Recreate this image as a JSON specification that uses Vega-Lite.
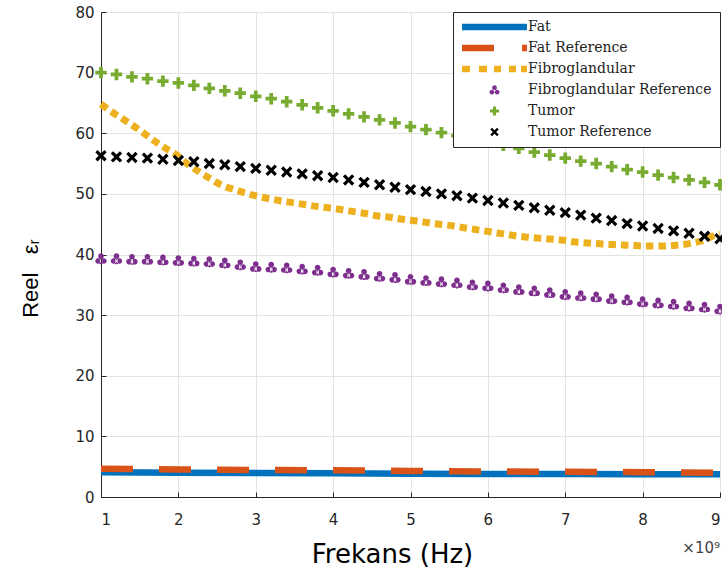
{
"$schema": "https://vega.github.io/schema/vega-lite/v6.json",
"width": 619, "height": 485,
"autosize": {"type": "none"},
"padding": {"left": 101, "top": 12, "right": 2, "bottom": 81},
"background": "white",
"title": {"text": "×10⁹", "orient": "bottom", "anchor": "end", "frame": "group", "offset": -26, "font": "DejaVu Sans", "fontSize": 15, "fontWeight": "normal", "color": "#444444"},
"config": {
  "view": {"stroke": "#262626", "strokeWidth": 1},
  "axis": {"domainColor": "#262626", "tickColor": "#262626", "labelColor": "#262626", "labelFont": "DejaVu Sans", "labelFontSize": 15, "gridColor": "#e3e3e3", "grid": true, "tickSize": -5, "titleColor": "#000000", "titleFontWeight": "normal"}
},
"datasets": {
"lines": [
{"series":"Fat","f":1,"v":4.1},{"series":"Fat","f":2,"v":4.0},{"series":"Fat","f":3,"v":3.95},{"series":"Fat","f":4,"v":3.9},{"series":"Fat","f":5,"v":3.85},{"series":"Fat","f":6,"v":3.8},{"series":"Fat","f":7,"v":3.8},{"series":"Fat","f":8,"v":3.75},{"series":"Fat","f":9,"v":3.75},
{"series":"Fat Reference","f":1,"v":4.65},{"series":"Fat Reference","f":2,"v":4.55},{"series":"Fat Reference","f":3,"v":4.45},{"series":"Fat Reference","f":4,"v":4.4},{"series":"Fat Reference","f":5,"v":4.3},{"series":"Fat Reference","f":6,"v":4.2},{"series":"Fat Reference","f":7,"v":4.15},{"series":"Fat Reference","f":8,"v":4.1},{"series":"Fat Reference","f":9,"v":4.0},
{"series":"Fibroglandular","f":1.0,"v":64.8},{"series":"Fibroglandular","f":1.2,"v":63.0},{"series":"Fibroglandular","f":1.35,"v":61.8},{"series":"Fibroglandular","f":1.5,"v":60.5},{"series":"Fibroglandular","f":1.65,"v":59.1},{"series":"Fibroglandular","f":1.8,"v":57.8},{"series":"Fibroglandular","f":2.0,"v":56.2},{"series":"Fibroglandular","f":2.1,"v":55.1},{"series":"Fibroglandular","f":2.25,"v":53.8},{"series":"Fibroglandular","f":2.4,"v":52.6},{"series":"Fibroglandular","f":2.55,"v":51.5},{"series":"Fibroglandular","f":2.75,"v":50.6},{"series":"Fibroglandular","f":2.9,"v":50.0},{"series":"Fibroglandular","f":3.1,"v":49.4},{"series":"Fibroglandular","f":3.3,"v":48.9},{"series":"Fibroglandular","f":3.5,"v":48.5},{"series":"Fibroglandular","f":3.65,"v":48.2},{"series":"Fibroglandular","f":3.8,"v":47.9},{"series":"Fibroglandular","f":4.0,"v":47.6},{"series":"Fibroglandular","f":4.2,"v":47.2},{"series":"Fibroglandular","f":4.4,"v":46.8},{"series":"Fibroglandular","f":4.55,"v":46.4},{"series":"Fibroglandular","f":4.75,"v":46.1},{"series":"Fibroglandular","f":4.9,"v":45.8},{"series":"Fibroglandular","f":5.1,"v":45.5},{"series":"Fibroglandular","f":5.3,"v":45.1},{"series":"Fibroglandular","f":5.5,"v":44.8},{"series":"Fibroglandular","f":5.65,"v":44.5},{"series":"Fibroglandular","f":5.85,"v":44.1},{"series":"Fibroglandular","f":6.0,"v":43.8},{"series":"Fibroglandular","f":6.2,"v":43.4},{"series":"Fibroglandular","f":6.35,"v":43.1},{"series":"Fibroglandular","f":6.55,"v":42.8},{"series":"Fibroglandular","f":6.75,"v":42.6},{"series":"Fibroglandular","f":6.95,"v":42.4},{"series":"Fibroglandular","f":7.1,"v":42.1},{"series":"Fibroglandular","f":7.3,"v":41.9},{"series":"Fibroglandular","f":7.5,"v":41.7},{"series":"Fibroglandular","f":7.7,"v":41.6},{"series":"Fibroglandular","f":7.85,"v":41.5},{"series":"Fibroglandular","f":8.05,"v":41.4},{"series":"Fibroglandular","f":8.25,"v":41.4},{"series":"Fibroglandular","f":8.4,"v":41.5},{"series":"Fibroglandular","f":8.6,"v":41.8},{"series":"Fibroglandular","f":8.8,"v":42.4},{"series":"Fibroglandular","f":8.9,"v":43.0},{"series":"Fibroglandular","f":9.0,"v":43.4}
],
"markers": [
{"series":"Fibroglandular Reference","f":1.0,"v":39.3},{"series":"Fibroglandular Reference","f":1.2,"v":39.3},{"series":"Fibroglandular Reference","f":1.4,"v":39.2},{"series":"Fibroglandular Reference","f":1.6,"v":39.2},{"series":"Fibroglandular Reference","f":1.8,"v":39.1},{"series":"Fibroglandular Reference","f":2.0,"v":39.0},{"series":"Fibroglandular Reference","f":2.2,"v":38.9},{"series":"Fibroglandular Reference","f":2.4,"v":38.8},{"series":"Fibroglandular Reference","f":2.6,"v":38.6},{"series":"Fibroglandular Reference","f":2.8,"v":38.3},{"series":"Fibroglandular Reference","f":3.0,"v":38.0},{"series":"Fibroglandular Reference","f":3.2,"v":37.9},{"series":"Fibroglandular Reference","f":3.4,"v":37.8},{"series":"Fibroglandular Reference","f":3.6,"v":37.6},{"series":"Fibroglandular Reference","f":3.8,"v":37.4},{"series":"Fibroglandular Reference","f":4.0,"v":37.1},{"series":"Fibroglandular Reference","f":4.2,"v":36.9},{"series":"Fibroglandular Reference","f":4.4,"v":36.7},{"series":"Fibroglandular Reference","f":4.6,"v":36.4},{"series":"Fibroglandular Reference","f":4.8,"v":36.2},{"series":"Fibroglandular Reference","f":5.0,"v":35.9},{"series":"Fibroglandular Reference","f":5.2,"v":35.7},{"series":"Fibroglandular Reference","f":5.4,"v":35.5},{"series":"Fibroglandular Reference","f":5.6,"v":35.3},{"series":"Fibroglandular Reference","f":5.8,"v":35.0},{"series":"Fibroglandular Reference","f":6.0,"v":34.8},{"series":"Fibroglandular Reference","f":6.2,"v":34.5},{"series":"Fibroglandular Reference","f":6.4,"v":34.2},{"series":"Fibroglandular Reference","f":6.6,"v":34.0},{"series":"Fibroglandular Reference","f":6.8,"v":33.7},{"series":"Fibroglandular Reference","f":7.0,"v":33.4},{"series":"Fibroglandular Reference","f":7.2,"v":33.2},{"series":"Fibroglandular Reference","f":7.4,"v":33.0},{"series":"Fibroglandular Reference","f":7.6,"v":32.7},{"series":"Fibroglandular Reference","f":7.8,"v":32.5},{"series":"Fibroglandular Reference","f":8.0,"v":32.2},{"series":"Fibroglandular Reference","f":8.2,"v":32.0},{"series":"Fibroglandular Reference","f":8.4,"v":31.8},{"series":"Fibroglandular Reference","f":8.6,"v":31.5},{"series":"Fibroglandular Reference","f":8.8,"v":31.3},{"series":"Fibroglandular Reference","f":9.0,"v":31.0},
{"series":"Tumor","f":1.0,"v":70.0},{"series":"Tumor","f":1.2,"v":69.7},{"series":"Tumor","f":1.4,"v":69.3},{"series":"Tumor","f":1.6,"v":69.0},{"series":"Tumor","f":1.8,"v":68.6},{"series":"Tumor","f":2.0,"v":68.3},{"series":"Tumor","f":2.2,"v":67.9},{"series":"Tumor","f":2.4,"v":67.4},{"series":"Tumor","f":2.6,"v":67.0},{"series":"Tumor","f":2.8,"v":66.6},{"series":"Tumor","f":3.0,"v":66.1},{"series":"Tumor","f":3.2,"v":65.7},{"series":"Tumor","f":3.4,"v":65.2},{"series":"Tumor","f":3.6,"v":64.7},{"series":"Tumor","f":3.8,"v":64.2},{"series":"Tumor","f":4.0,"v":63.7},{"series":"Tumor","f":4.2,"v":63.2},{"series":"Tumor","f":4.4,"v":62.7},{"series":"Tumor","f":4.6,"v":62.2},{"series":"Tumor","f":4.8,"v":61.7},{"series":"Tumor","f":5.0,"v":61.1},{"series":"Tumor","f":5.2,"v":60.6},{"series":"Tumor","f":5.4,"v":60.1},{"series":"Tumor","f":5.6,"v":59.6},{"series":"Tumor","f":5.8,"v":59.0},{"series":"Tumor","f":6.0,"v":58.5},{"series":"Tumor","f":6.2,"v":58.0},{"series":"Tumor","f":6.4,"v":57.5},{"series":"Tumor","f":6.6,"v":56.9},{"series":"Tumor","f":6.8,"v":56.4},{"series":"Tumor","f":7.0,"v":55.9},{"series":"Tumor","f":7.2,"v":55.4},{"series":"Tumor","f":7.4,"v":55.0},{"series":"Tumor","f":7.6,"v":54.5},{"series":"Tumor","f":7.8,"v":54.0},{"series":"Tumor","f":8.0,"v":53.6},{"series":"Tumor","f":8.2,"v":53.1},{"series":"Tumor","f":8.4,"v":52.7},{"series":"Tumor","f":8.6,"v":52.3},{"series":"Tumor","f":8.8,"v":51.9},{"series":"Tumor","f":9.0,"v":51.5},
{"series":"Tumor Reference","f":1.0,"v":56.3},{"series":"Tumor Reference","f":1.2,"v":56.1},{"series":"Tumor Reference","f":1.4,"v":56.0},{"series":"Tumor Reference","f":1.6,"v":55.9},{"series":"Tumor Reference","f":1.8,"v":55.7},{"series":"Tumor Reference","f":2.0,"v":55.5},{"series":"Tumor Reference","f":2.2,"v":55.3},{"series":"Tumor Reference","f":2.4,"v":55.0},{"series":"Tumor Reference","f":2.6,"v":54.8},{"series":"Tumor Reference","f":2.8,"v":54.5},{"series":"Tumor Reference","f":3.0,"v":54.2},{"series":"Tumor Reference","f":3.2,"v":53.9},{"series":"Tumor Reference","f":3.4,"v":53.6},{"series":"Tumor Reference","f":3.6,"v":53.3},{"series":"Tumor Reference","f":3.8,"v":53.0},{"series":"Tumor Reference","f":4.0,"v":52.7},{"series":"Tumor Reference","f":4.2,"v":52.3},{"series":"Tumor Reference","f":4.4,"v":51.9},{"series":"Tumor Reference","f":4.6,"v":51.5},{"series":"Tumor Reference","f":4.8,"v":51.1},{"series":"Tumor Reference","f":5.0,"v":50.7},{"series":"Tumor Reference","f":5.2,"v":50.4},{"series":"Tumor Reference","f":5.4,"v":50.0},{"series":"Tumor Reference","f":5.6,"v":49.7},{"series":"Tumor Reference","f":5.8,"v":49.3},{"series":"Tumor Reference","f":6.0,"v":48.9},{"series":"Tumor Reference","f":6.2,"v":48.5},{"series":"Tumor Reference","f":6.4,"v":48.1},{"series":"Tumor Reference","f":6.6,"v":47.7},{"series":"Tumor Reference","f":6.8,"v":47.3},{"series":"Tumor Reference","f":7.0,"v":46.9},{"series":"Tumor Reference","f":7.2,"v":46.5},{"series":"Tumor Reference","f":7.4,"v":46.0},{"series":"Tumor Reference","f":7.6,"v":45.6},{"series":"Tumor Reference","f":7.8,"v":45.1},{"series":"Tumor Reference","f":8.0,"v":44.7},{"series":"Tumor Reference","f":8.2,"v":44.3},{"series":"Tumor Reference","f":8.4,"v":43.9},{"series":"Tumor Reference","f":8.6,"v":43.5},{"series":"Tumor Reference","f":8.8,"v":43.0},{"series":"Tumor Reference","f":9.0,"v":42.6}
]
},
"encoding": {
  "x": {"field": "f", "type": "quantitative", "scale": {"domain": [1, 9], "nice": false, "zero": false},
        "axis": {"values": [1,2,3,4,5,6,7,8,9], "title": "Frekans (Hz)", "titleFont": "DejaVu Sans", "titleFontSize": 26, "labelPadding": 20, "titleX": 291, "titleY": 65, "titleBaseline": "alphabetic", "titleAnchor": null}},
  "y": {"field": "v", "type": "quantitative", "scale": {"domain": [0, 80], "nice": false},
        "axis": {"values": [0,10,20,30,40,50,60,70,80], "title": "Reel\u00a0\u00a0\u00a0εᵣ", "titleFont": "Liberation Sans", "titleFontSize": 22, "labelPadding": 12, "titleX": -64, "titleY": 266, "titleAngle": 270, "titleBaseline": "alphabetic", "titleAlign": "center", "titleAnchor": null}},
  "color": {"field": "series", "type": "nominal",
    "scale": {"domain": ["Fat", "Fat Reference", "Fibroglandular", "Fibroglandular Reference", "Tumor", "Tumor Reference"], "range": ["#0072BD", "#D95319", "#EDB120", "#7E2F8E", "#77AC30", "#000000"]},
    "legend": {"title": null, "orient": "top-right", "offset": 0, "fillColor": "white", "strokeColor": "#262626", "padding": 8,
      "labelFont": "DejaVu Serif", "labelFontSize": 14, "labelColor": "#222222", "labelLimit": 0, "symbolSize": 144, "labelOffset": 53, "rowPadding": 7,
      "encode": {"symbols": {"update": {
        "shape": {"signal": "datum.value === 'Fat' ? 'M-1,-0.55H9.83V0.55H-1Z' : datum.value === 'Fat Reference' ? 'M-1,-0.55H4.33V0.55H-1Z M9,-0.55H9.83V0.55H9Z' : datum.value === 'Fibroglandular' ? 'M-1,-0.55H0.33V0.55H-1Z M1.83,-0.55H3.17V0.55H1.83Z M4.33,-0.55H5.5V0.55H4.33Z M6.83,-0.55H8V0.55H6.83Z M8.83,-0.55H9.83V0.55H8.83Z' : datum.value === 'Fibroglandular Reference' ? 'M4.02,-0.38A0.4,0.4 0 1 0 4.82,-0.38A0.4,0.4 0 1 0 4.02,-0.38Z M3.58,0.34A0.4,0.4 0 1 0 4.38,0.34A0.4,0.4 0 1 0 3.58,0.34Z M4.46,0.34A0.4,0.4 0 1 0 5.26,0.34A0.4,0.4 0 1 0 4.46,0.34Z' : datum.value === 'Tumor' ? 'M4.17,-0.75H4.67V-0.25H5.17V0.25H4.67V0.75H4.17V0.25H3.67V-0.25H4.17Z' : 'M3.72,-0.42L4,-0.7L4.42,-0.28L4.84,-0.7L5.12,-0.42L4.7,0L5.12,0.42L4.84,0.7L4.42,0.28L4,0.7L3.72,0.42L4.14,0Z'"},
        "fill": {"scale": "color", "field": "value"},
        "stroke": {"value": "transparent"},
        "strokeWidth": {"value": 0},
        "size": {"value": 144},
        "opacity": {"value": 1}
      }}}
    }
  }
},
"layer": [
  {"data": {"name": "lines"}, "transform": [{"filter": "datum.series === 'Fat'"}], "mark": {"type": "line", "strokeWidth": 6.5}},
  {"data": {"name": "lines"}, "transform": [{"filter": "datum.series === 'Fat Reference'"}], "mark": {"type": "line", "strokeWidth": 6.5, "strokeDash": [32, 26]}},
  {"data": {"name": "lines"}, "transform": [{"filter": "datum.series === 'Fibroglandular'"}], "mark": {"type": "line", "strokeWidth": 7, "strokeDash": [7.5, 5], "interpolate": "monotone"}},
  {"data": {"name": "markers"}, "mark": {"type": "point", "filled": true, "size": 130, "opacity": 1},
   "encoding": {"shape": {"field": "series", "type": "nominal", "legend": null,
     "scale": {"domain": ["Fibroglandular Reference", "Tumor", "Tumor Reference"],
       "range": ["M-0.5,-0.45A0.5,0.5 0 1 0 0.5,-0.45A0.5,0.5 0 1 0 -0.5,-0.45Z M-1,0.4A0.5,0.5 0 1 0 0,0.4A0.5,0.5 0 1 0 -1,0.4Z M0,0.4A0.5,0.5 0 1 0 1,0.4A0.5,0.5 0 1 0 0,0.4Z M-0.2,0H0.2V0.95H-0.2Z",
                 "M-0.33,-1H0.33V-0.33H1V0.33H0.33V1H-0.33V0.33H-1V-0.33H-0.33Z",
                 "M-1,-0.6L-0.6,-1L0,-0.4L0.6,-1L1,-0.6L0.4,0L1,0.6L0.6,1L0,0.4L-0.6,1L-1,0.6L-0.4,0Z"]}}}}
]
}
